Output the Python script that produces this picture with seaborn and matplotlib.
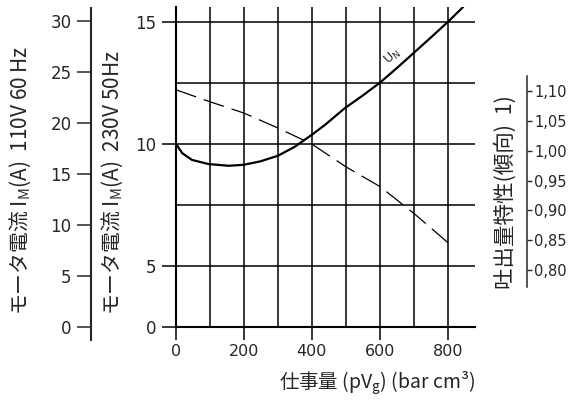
# Pump motor current / delivery characteristic vs work

import matplotlib
matplotlib.use("Agg")
import matplotlib.pyplot as plt
import seaborn as sns

# solid curve U_N : motor current (230V scale)
work = [0, 18, 47, 96, 155, 199, 248, 300, 351, 372, 400, 439, 497, 550, 600, 650, 698, 750, 801, 845]
current = [10.0, 9.62, 9.34, 9.17, 9.10, 9.14, 9.28, 9.51, 9.89, 10.1, 10.37, 10.78, 11.46, 11.98, 12.5, 13.1, 13.7, 14.35, 15.0, 15.6]

# dashed curve : delivery characteristic (right scale)
work_d = [0, 100, 200, 300, 400, 500, 600, 700, 800]
delivery = [1.102, 1.082, 1.063, 1.038, 1.011, 0.973, 0.94, 0.895, 0.846]

x_ticks = [0, 200, 400, 600, 800]
x_minor = [100, 300, 500, 700]
y_ticks = [2.5, 5, 10, 15]          # bottom grid line is labelled 0
y_labels = ["0", "5", "10", "15"]
y_minor = [7.5, 12.5]
y110_ticks = [0, 5, 10, 15, 20, 25, 30]
r_ticks = [0.80, 0.85, 0.90, 0.95, 1.00, 1.05, 1.10]
r_labels = ["0,80", "0,85", "0,90", "0,95", "1,00", "1,05", "1,10"]

sns.set_style("ticks")
plt.rcParams["font.family"] = ["DejaVu Sans", "Noto Sans CJK JP"]
jp = "Noto Sans CJK JP"

W, H = 581, 405
fig = plt.figure(figsize=(W / 100, H / 100), dpi=100)

# main axes (pixel box 176..475, 7..327)
ax = fig.add_axes([176 / W, 1 - 327 / H, (475 - 176) / W, (327 - 7) / H])
sns.lineplot(x=work, y=current, ax=ax, color="black", lw=1.6, sort=False)
ax.set_xlim(0, 880)
ax.set_ylim(2.5, 15.6)
ax.set_xticks(x_ticks)
ax.set_xticks(x_minor, minor=True)
ax.set_yticks(y_ticks)
ax.set_yticklabels(y_labels)
ax.set_yticks(y_minor, minor=True)
ax.grid(which="both", color="black", lw=1.1)
ax.tick_params(which="major", length=10, width=1.1, color="black", labelsize=12, pad=4)
ax.tick_params(axis="x", which="major", length=9.4, labelsize=11.5, pad=3)
ax.tick_params(which="minor", length=0)
for s in ["top", "right"]:
    ax.spines[s].set_visible(False)
for s in ["left", "bottom"]:
    ax.spines[s].set_linewidth(1.5)
    ax.spines[s].set_color("black")
ax.text(638, 13.55, "U$_\\mathregular{N}$", rotation=41, fontsize=9,
        ha="center", va="center")
ax.set_xlabel("仕事量 (pV$_\\mathregular{g}$) (bar cm³)", family=jp, fontsize=14)
ax.xaxis.set_label_coords(1.0, -0.175)
ax.xaxis.label.set_ha("right")
ax.xaxis.label.set_va("center")
ax.set_ylabel("")

# right axis: delivery characteristic
axr = ax.twinx()
sns.lineplot(x=work_d, y=delivery, ax=axr, color="black", lw=0.9,
             linestyle=(0, (17, 6.5)), sort=False)
axr.set_ylim(0.7045, 1.2408)
axr.set_yticks(r_ticks)
axr.set_yticklabels(r_labels)
for s in ["top", "left", "bottom"]:
    axr.spines[s].set_visible(False)
axr.spines["right"].set_position(("axes", (527 - 176) / (475 - 176)))
axr.spines["right"].set_bounds(0.771, 1.1246)
axr.spines["right"].set_linewidth(1.1)
axr.tick_params(axis="y", length=3.5, width=1.0, labelsize=10.5, pad=1.5)
axr.grid(False)
axr.set_ylabel("")
fig.text(506 / W, 1 - 192 / H, "吐出量特性(傾向)  1)", rotation=90, family=jp,
         fontsize=15.5, ha="center", va="center")

# far left axis: 110V 60Hz scale
ax3 = fig.add_axes([91 / W, 1 - 340 / H, 0.0001, (340 - 8) / H])
ax3.set_ylim(-13 / 10.2, 30 + 13 / 10.2)
ax3.set_yticks(y110_ticks)
ax3.set_xticks([])
ax3.patch.set_visible(False)
for s in ["top", "right", "bottom"]:
    ax3.spines[s].set_visible(False)
ax3.spines["left"].set_linewidth(1.5)
ax3.tick_params(axis="y", length=10, width=1.1, labelsize=12, pad=4)

fig.text(20 / W, 1 - 180 / H, "モータ電流 I$_\\mathregular{M}$(A)  110V 60 Hz", rotation=90,
         family=jp, fontsize=15, ha="center", va="center")
fig.text(112 / W, 1 - 183 / H, "モータ電流 I$_\\mathregular{M}$(A)  230V 50Hz", rotation=90,
         family=jp, fontsize=15, ha="center", va="center")

fig.savefig("out.png", dpi=100)
